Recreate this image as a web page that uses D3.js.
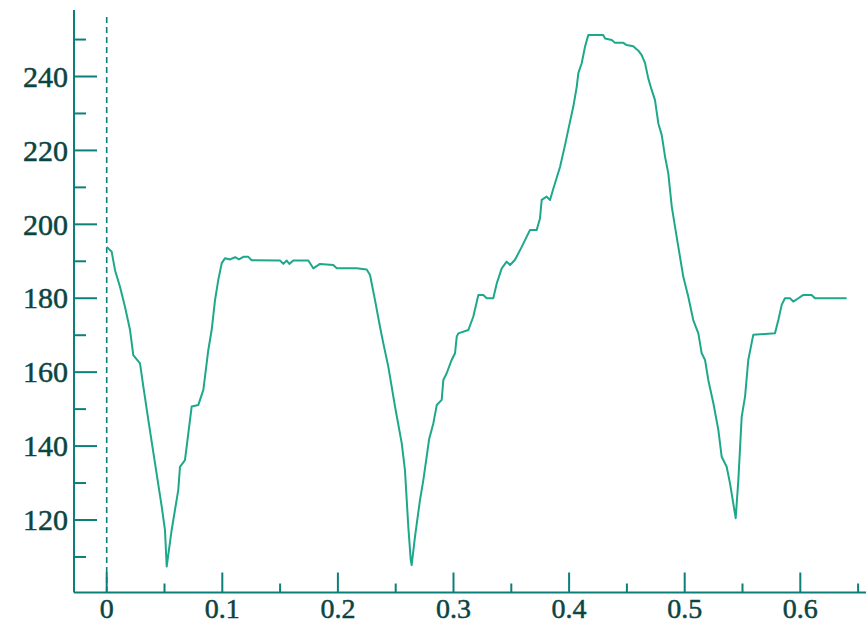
<!DOCTYPE html>
<html>
<head>
<meta charset="utf-8">
<script src="https://cdn.jsdelivr.net/npm/d3@7"></script>
<style>
  html, body { margin: 0; padding: 0; background: #ffffff; }
  svg { display: block; }
</style>
</head>
<body>
<svg id="chart" width="866" height="624"></svg>
<script>
// ---- data ----
const xValues = [
  0.0000, 0.0043, 0.0072, 0.0115, 0.0158, 0.0202, 0.0230, 0.0288, 0.0317, 0.0360,
  0.0418, 0.0476, 0.0504, 0.0519, 0.0562, 0.0619, 0.0634, 0.0677, 0.0735, 0.0792,
  0.0836, 0.0879, 0.0908, 0.0937, 0.0965, 0.0995, 0.1023, 0.1067, 0.1111, 0.1144,
  0.1182, 0.1225, 0.1254, 0.1499, 0.1528, 0.1557, 0.1580, 0.1614, 0.1744, 0.1787,
  0.1845, 0.1960, 0.1990, 0.2163, 0.2249, 0.2278, 0.2321, 0.2364, 0.2393, 0.2436,
  0.2494, 0.2552, 0.2580, 0.2609, 0.2630, 0.2638, 0.2667, 0.2710, 0.2739, 0.2790,
  0.2826, 0.2855, 0.2898, 0.2912, 0.2941, 0.2984, 0.3013, 0.3028, 0.3042, 0.3128,
  0.3171, 0.3215, 0.3258, 0.3287, 0.3344, 0.3374, 0.3417, 0.3460, 0.3489, 0.3532,
  0.3590, 0.3662, 0.3720, 0.3748, 0.3763, 0.3806, 0.3835, 0.3864, 0.3922, 0.3965,
  0.4008, 0.4036, 0.4066, 0.4080, 0.4109, 0.4138, 0.4166, 0.4296, 0.4311, 0.4369,
  0.4397, 0.4469, 0.4498, 0.4555, 0.4599, 0.4628, 0.4657, 0.4685, 0.4715, 0.4743,
  0.4772, 0.4801, 0.4830, 0.4858, 0.4888, 0.4916, 0.4945, 0.4988, 0.5031, 0.5074,
  0.5118, 0.5147, 0.5176, 0.5204, 0.5248, 0.5291, 0.5320, 0.5363, 0.5392, 0.5420,
  0.5441, 0.5464, 0.5493, 0.5522, 0.5550, 0.5593, 0.5781, 0.5810, 0.5839, 0.5867,
  0.5911, 0.5939, 0.5983, 0.6026, 0.6098, 0.6127, 0.6401
];
const yValues = [
  193.9, 192.6, 187.6, 183.1, 177.7, 171.4, 164.6, 162.4, 156.1, 147.1,
  135.3, 123.6, 117.3, 107.4, 117.3, 128.1, 134.4, 136.2, 150.7, 151.1,
  155.2, 166.0, 171.4, 179.5, 184.9, 189.5, 190.8, 190.5, 191.1, 190.5,
  191.2, 191.2, 190.3, 190.2, 189.3, 190.2, 189.3, 190.2, 190.2, 188.1,
  189.3, 189.0, 188.1, 188.1, 187.8, 186.3, 179.5, 172.3, 167.8, 161.5,
  150.7, 140.8, 133.5, 118.2, 109.2, 107.8, 115.5, 125.4, 130.8, 142.0,
  146.2, 151.1, 152.5, 157.9, 159.7, 163.3, 165.1, 169.6, 170.5, 171.4,
  175.0, 180.9, 180.9, 180.0, 180.0, 184.0, 188.1, 189.9, 189.0, 190.4,
  193.9, 198.5, 198.5, 201.6, 206.6, 207.5, 206.6, 209.7, 215.6, 221.5,
  227.8, 231.8, 237.2, 240.9, 243.6, 248.1, 251.2, 251.2, 250.3, 249.9,
  249.1, 249.1, 248.5, 248.2, 247.0, 245.8, 243.6, 239.5, 236.3, 233.6,
  227.3, 224.2, 218.3, 213.8, 204.8, 199.4, 193.9, 185.8, 180.4, 174.1,
  170.5, 165.1, 163.3, 157.9, 151.6, 144.4, 137.1, 134.4, 129.9, 124.5,
  120.5, 130.8, 147.9, 153.4, 163.3, 170.1, 170.5, 174.1, 178.2, 180.0,
  180.0, 179.1, 180.0, 180.9, 180.9, 180.0, 180.0
];
const xMajorTicks = [0, 0.1, 0.2, 0.3, 0.4, 0.5, 0.6];
const xTickLabels = ["0", "0.1", "0.2", "0.3", "0.4", "0.5", "0.6"];
const xMinorTicks = [0.05, 0.15, 0.25, 0.35, 0.45, 0.55, 0.65];
const yMajorTicks = [120, 140, 160, 180, 200, 220, 240];
const yTickLabels = ["120", "140", "160", "180", "200", "220", "240"];
const yMinorTicks = [110, 130, 150, 170, 190, 210, 230, 250];

// ---- layout ----
const axisX = 74, axisY = 592.5, topY = 10, rightX = 866;
const axisColor = "#0d7f7b";
const textColor = "#0b4543";
const lineColor = "#1ea88a";
const fontFamily = "'Liberation Serif', 'Times New Roman', serif";

const svg = d3.select("#chart");

const x = d3.scaleLinear().domain([0, 0.6]).range([106.7, 800.3]);
const y = d3.scaleLinear().domain([120, 240]).range([520, 76.5]);

// dashed zero line
svg.append("line")
  .attr("x1", x(0)).attr("x2", x(0))
  .attr("y1", 17).attr("y2", axisY)
  .attr("stroke", axisColor).attr("stroke-width", 1.6)
  .attr("stroke-dasharray", "6,4");

// X axis
const gx = svg.append("g").attr("transform", `translate(0,${axisY})`);
gx.append("line").attr("x1", axisX).attr("x2", rightX).attr("y1", 0).attr("y2", 0)
  .attr("stroke", axisColor).attr("stroke-width", 2);
gx.selectAll("line.major").data(xMajorTicks).join("line").attr("class", "major")
  .attr("x1", d => x(d)).attr("x2", d => x(d)).attr("y1", 0).attr("y2", -20)
  .attr("stroke", axisColor).attr("stroke-width", 2);
gx.selectAll("line.minor").data(xMinorTicks).join("line").attr("class", "minor")
  .attr("x1", d => x(d)).attr("x2", d => x(d)).attr("y1", 0).attr("y2", -9)
  .attr("stroke", axisColor).attr("stroke-width", 2);
gx.selectAll("text").data(xMajorTicks).join("text")
  .attr("x", d => x(d)).attr("y", 25)
  .attr("text-anchor", "middle")
  .attr("font-family", fontFamily).attr("font-size", 28)
  .attr("fill", textColor).attr("stroke", textColor).attr("stroke-width", 0.5)
  .text((d, i) => xTickLabels[i]);

// Y axis
const gy = svg.append("g").attr("transform", `translate(${axisX},0)`);
gy.append("line").attr("x1", 0).attr("x2", 0).attr("y1", topY).attr("y2", axisY)
  .attr("stroke", axisColor).attr("stroke-width", 2);
gy.selectAll("line.major").data(yMajorTicks).join("line").attr("class", "major")
  .attr("x1", 0).attr("x2", 23).attr("y1", d => y(d)).attr("y2", d => y(d))
  .attr("stroke", axisColor).attr("stroke-width", 2);
gy.selectAll("line.minor").data(yMinorTicks).join("line").attr("class", "minor")
  .attr("x1", 0).attr("x2", 12).attr("y1", d => y(d)).attr("y2", d => y(d))
  .attr("stroke", axisColor).attr("stroke-width", 2);
gy.selectAll("text").data(yMajorTicks).join("text")
  .attr("x", -6).attr("y", d => y(d))
  .attr("dy", "0.34em")
  .attr("text-anchor", "end")
  .attr("font-family", fontFamily).attr("font-size", 30)
  .attr("fill", textColor).attr("stroke", textColor).attr("stroke-width", 0.5)
  .text((d, i) => yTickLabels[i]);

// data line
const pts = xValues.map((v, i) => [v, yValues[i]]);
const line = d3.line().x(d => x(d[0])).y(d => y(d[1]));
svg.append("path").datum(pts)
  .attr("d", line)
  .attr("fill", "none")
  .attr("stroke", lineColor)
  .attr("stroke-width", 2)
  .attr("stroke-linejoin", "round");
</script>
</body>
</html>
